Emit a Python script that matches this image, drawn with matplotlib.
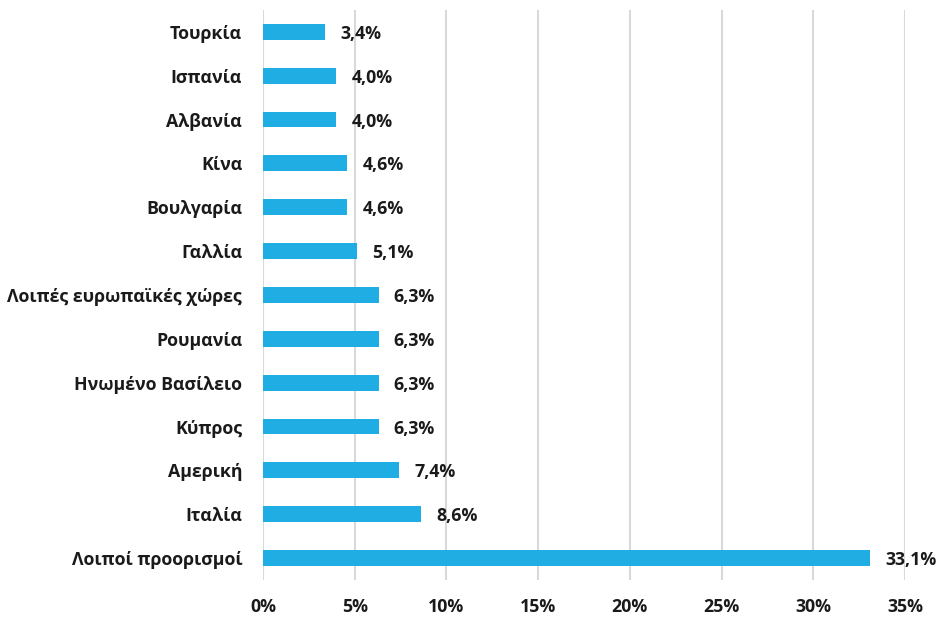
import matplotlib
matplotlib.use("Agg")
import matplotlib.pyplot as plt
from matplotlib.ticker import FuncFormatter, MultipleLocator

categories = ["Τουρκία", "Ισπανία", "Αλβανία", "Κίνα", "Βουλγαρία", "Γαλλία",
              "Λοιπές ευρωπαϊκές χώρες", "Ρουμανία", "Ηνωμένο Βασίλειο", "Κύπρος",
              "Αμερική", "Ιταλία", "Λοιποί προορισμοί"]
values = [3.4, 4.0, 4.0, 4.6, 4.6, 5.1, 6.3, 6.3, 6.3, 6.3, 7.4, 8.6, 33.1]

plt.rcParams['font.family'] = ['Open Sans', 'DejaVu Sans']
fig = plt.figure(figsize=(9.41, 6.19), dpi=100)
ax = fig.add_axes([0.2795, 0.063, 0.6822, 0.921])

FS = 12.8
y = list(range(len(categories)))
ax.barh(y, values, height=0.36, color="#1FADE4", zorder=3)
for yi, v in zip(y, values):
    ax.annotate(f"{v:.1f}%".replace(".", ","), (v, yi), xytext=(11, -1.5),
                textcoords="offset points", va="center", ha="left",
                fontsize=FS, fontweight="bold", color="#1a1a1a")

ax.set_xlim(0, 35)
ax.set_ylim(len(categories) - 0.5, -0.5)
ax.set_yticks(y)
ax.set_yticklabels(categories, fontsize=FS, fontweight="bold", color="#1a1a1a")
ax.xaxis.set_major_locator(MultipleLocator(5))
ax.xaxis.set_major_formatter(FuncFormatter(lambda x, p: f"{x:.0f}%"))
for lbl in ax.get_xticklabels():
    lbl.set_fontsize(FS)
    lbl.set_fontweight("bold")
    lbl.set_color("#1a1a1a")
ax.tick_params(axis="both", length=0)
ax.tick_params(axis="y", pad=15)
ax.tick_params(axis="x", pad=13)
ax.grid(axis="x", color="#d9d9d9", linewidth=1.5, zorder=0)
for s in ax.spines.values():
    s.set_visible(False)

fig.savefig("out.png", dpi=100)
